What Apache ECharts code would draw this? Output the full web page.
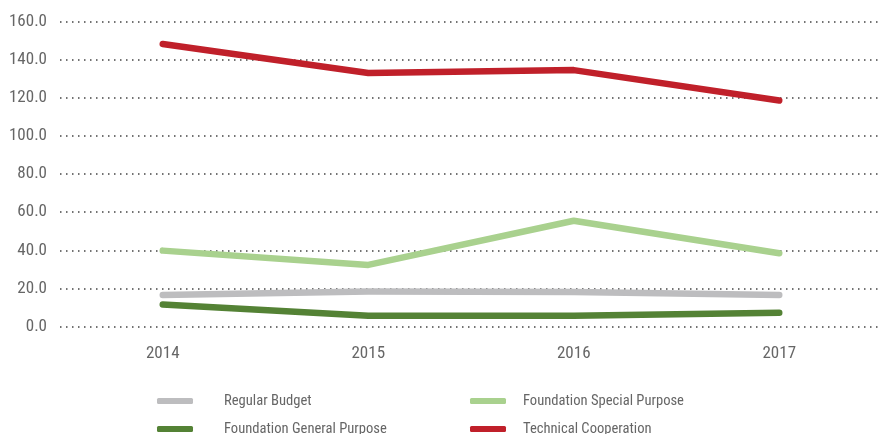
<!DOCTYPE html>
<html>
<head>
<meta charset="utf-8">
<script src="https://cdn.jsdelivr.net/npm/echarts@6/dist/echarts.min.js"></script>
<style>
  html, body { margin: 0; padding: 0; background: #fff; }
  #chart { width: 882px; height: 434px; }
</style>
</head>
<body>
<div id="chart"></div>
<script>
// Years on the category axis
const years = ['2014', '2015', '2016', '2017'];

// Funding by source (values per year)
const regularBudget = [16.5, 18.3, 18.1, 16.5];
const foundationSpecial = [39.8, 32.3, 55.5, 38.4];
const foundationGeneral = [11.6, 5.7, 5.7, 7.2];
const technicalCooperation = [148.2, 133.0, 134.5, 118.6];

// Value axis ticks
const yTicks = [0, 20, 40, 60, 80, 100, 120, 140, 160];

const seriesNames = ['Regular Budget', 'Foundation Special Purpose', 'Foundation General Purpose', 'Technical Cooperation'];
const seriesColors = ['#bdbdbf', '#a9d18e', '#548235', '#c0202a'];
const seriesValues = [regularBudget, foundationSpecial, foundationGeneral, technicalCooperation];

const FONT = "'Liberation Sans Narrow', 'Arial Narrow', 'Roboto Condensed', 'Liberation Sans', sans-serif";
const TEXT = '#666666';

const chart = echarts.init(document.getElementById('chart'), null, { renderer: 'canvas' });

// Legend: two columns, two rows
const legendSlots = [
  { left: 152, top: 388, gap: 26 },
  { left: 465, top: 388, gap: 12 },
  { left: 152, top: 416, gap: 26 },
  { left: 465, top: 416, gap: 12 }
];

const legends = seriesNames.map((name, i) => ({
  data: [name],
  left: legendSlots[i].left,
  top: legendSlots[i].top,
  icon: 'roundRect',
  itemWidth: 36,
  itemHeight: 6,
  selectedMode: false,
  textStyle: {
    fontFamily: FONT,
    fontSize: 14.6,
    color: TEXT,
    lineHeight: 16,
    padding: [0, 0, 0, legendSlots[i].gap]
  }
}));

chart.setOption({
  animation: false,
  backgroundColor: '#ffffff',
  grid: { left: 60, right: -14, top: 21.5, bottom: 434 - 326.5 },
  legend: legends,
  xAxis: {
    type: 'category',
    data: years,
    boundaryGap: true,
    axisLine: { show: false },
    axisTick: { show: false },
    splitLine: { show: false },
    axisLabel: { fontFamily: FONT, fontSize: 17, color: TEXT, margin: 19 }
  },
  yAxis: {
    type: 'value',
    min: yTicks[0],
    max: yTicks[yTicks.length - 1],
    interval: yTicks[1] - yTicks[0],
    axisLine: { show: false },
    axisTick: { show: false },
    axisLabel: {
      fontFamily: FONT, fontSize: 17, color: TEXT, margin: 13,
      formatter: v => v.toFixed(1)
    },
    splitLine: {
      show: true,
      lineStyle: { color: '#444444', width: 1.5, type: [1.5, 4.5] }
    }
  },
  series: seriesNames.map((name, i) => ({
    name: name,
    type: 'line',
    data: seriesValues[i],
    symbol: 'none',
    color: seriesColors[i],
    z: 2 + i,
    lineStyle: { width: 6.5, color: seriesColors[i], cap: 'round', join: 'round' }
  }))
});
</script>
</body>
</html>
